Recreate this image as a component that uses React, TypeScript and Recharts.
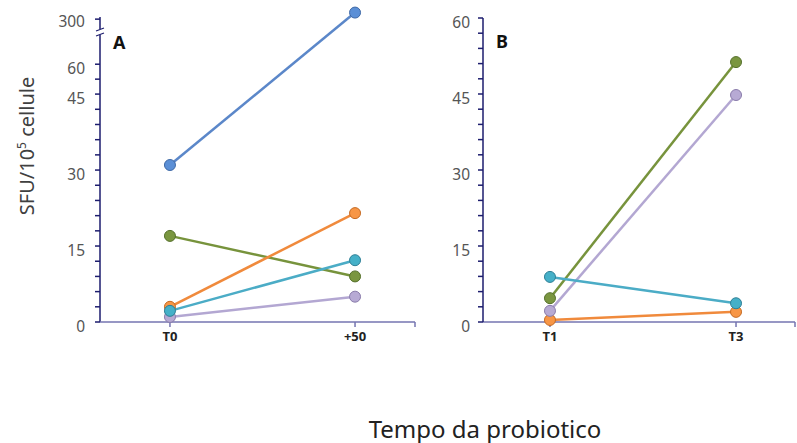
import React from 'react';
import { LineChart, Line, XAxis, YAxis, ReferenceLine } from 'recharts';

// ---- data ----
const catsA = ['T0', '+50'];
const catsB = ['T1', 'T3'];

const aBlue = [31, 335];
const aGreen = [17, 9];
const aOrange = [3, 21.5];
const aTeal = [2.2, 12.2];
const aPurple = [1, 5];

const bGreen = [4.7, 51.3];
const bPurple = [2.2, 44.8];
const bTeal = [8.9, 3.7];
const bOrange = [0.4, 2];

const yTicksA = [0, 3, 6, 9, 12, 15, 18, 21, 24, 27, 30, 33, 36, 39, 42, 45, 52.5, 60, 300];
const yLabelsA = [0, 15, 30, 45, 60, 300];
const yTicksB = [0, 3, 6, 9, 12, 15, 18, 21, 24, 27, 30, 33, 36, 39, 42, 45, 48, 51, 54, 57, 60];
const yLabelsB = [0, 15, 30, 45, 60];

// broken axis for panel A: linear to 45, compressed 45-60, strongly compressed above 60
function brk(v: number): number {
  if (v <= 45) return v;
  if (v <= 60) return 45 + (v - 45) * (5.9 / 15);
  return 50.9 + (v - 60) * (8.9 / 240);
}

const COLORS = {
  blue: { line: '#5b87c9', fill: '#5b8fd6', stroke: '#3f69a6' },
  green: { line: '#77933c', fill: '#7a9640', stroke: '#55702a' },
  orange: { line: '#f08a3c', fill: '#f79646', stroke: '#c66a22' },
  teal: { line: '#4bacc6', fill: '#45b0c8', stroke: '#2d7f96' },
  purple: { line: '#b3a7d2', fill: '#b7aad4', stroke: '#8a7cab' },
};

const rowsA = catsA.map((c, i) => ({
  x: i,
  cat: c,
  blue: aBlue[i],
  green: aGreen[i],
  orange: aOrange[i],
  teal: aTeal[i],
  purple: aPurple[i],
}));

const rowsB = catsB.map((c, i) => ({
  x: i,
  cat: c,
  green: bGreen[i],
  purple: bPurple[i],
  teal: bTeal[i],
  orange: bOrange[i],
}));

const AXIS = '#1d1d6e';
const XAXIS = '#7474b0';
const FONT = '"Noto Sans", "Open Sans", sans-serif';

const xMinA = -0.378;
const xMaxA = 1.324;
const xMinB = -0.36;
const xMaxB = 1.317;

function makeYTick(labels: number[], toRaw: (d: number) => number) {
  return (props: any) => {
    const { x, y, payload } = props;
    const raw = toRaw(payload.value);
    const match = labels.find((l) => Math.abs(l - raw) < 0.01);
    if (match === undefined) return <g />;
    const dy = match === 300 ? 2 : 4;
    return (
      <text x={x} y={y + dy} textAnchor="end" dominantBaseline="central" fill="#555" fontSize={15.5} fontFamily={FONT}>
        {match}
      </text>
    );
  };
}

const tickAMap = new Map(yTicksA.map((t) => [brk(t), t]));
const toRawA = (d: number) => {
  let best = d;
  let bd = Infinity;
  tickAMap.forEach((raw, disp) => {
    if (Math.abs(disp - d) < bd) {
      bd = Math.abs(disp - d);
      best = raw;
    }
  });
  return best;
};

function XTick(cats: string[]) {
  return (props: any) => {
    const { x, y, payload } = props;
    const label = cats[payload.value] ?? '';
    return (
      <text x={x} y={y} dy="0.71em" textAnchor="middle" fill="#222" fontSize={13} fontWeight="bold" fontFamily={FONT}>
        {label}
      </text>
    );
  };
}

function dotStyle(c: { fill: string; stroke: string }) {
  return { r: 5.5, fill: c.fill, stroke: c.stroke, strokeWidth: 1 };
}

export default function App() {
  const seriesA: (keyof typeof COLORS)[] = ['purple', 'green', 'blue', 'orange', 'teal'];
  const seriesB: (keyof typeof COLORS)[] = ['orange', 'purple', 'green', 'teal'];
  return (
    <div style={{ position: 'relative', width: 797, height: 443, background: '#fff', overflow: 'hidden' }}>
      <style>{'body{margin:0}'}</style>

      {/* Panel A */}
      <div style={{ position: 'absolute', left: 0, top: 0 }}>
        <LineChart width={430} height={443} data={rowsA} margin={{ top: 8, right: 15, bottom: 91, left: 0 }}>
          <XAxis
            type="number"
            dataKey="x"
            domain={[xMinA, xMaxA]}
            ticks={[0, 1, xMaxA]}
            allowDataOverflow
            height={30}
            stroke={XAXIS}
            strokeWidth={1.5}
            tickSize={5}
            tickMargin={5}
            tick={XTick(catsA)}
          />
          <YAxis
            type="number"
            domain={[0, 62]}
            ticks={yTicksA.map(brk)}
            width={100}
            axisLine={false}
            tickLine={{ stroke: AXIS, strokeWidth: 1.5 }}
            tickSize={5}
            tickMargin={10}
            tick={makeYTick(yLabelsA, toRawA)}
            interval={0}
          />
          <ReferenceLine
            segment={[{ x: xMinA, y: 0 }, { x: xMinA, y: brk(300) + 0.4 }]}
            stroke={AXIS}
            strokeWidth={1.5}
            ifOverflow="visible"
          />
          {seriesA.map((k) => (
            <Line
              key={k}
              type="linear"
              dataKey={(d: any) => brk(d[k])}
              stroke={COLORS[k].line}
              strokeWidth={2.5}
              dot={dotStyle(COLORS[k])}
              isAnimationActive={false}
            />
          ))}
        </LineChart>
      </div>

      {/* axis break mark */}
      <svg width={20} height={20} style={{ position: 'absolute', left: 90, top: 24 }}>
        <rect x={6} y={5} width={8} height={6} fill="#fff" />
        <path d="M6,7 L14,4" stroke={AXIS} strokeWidth={1.2} fill="none" />
        <path d="M6,12 L14,9" stroke={AXIS} strokeWidth={1.2} fill="none" />
      </svg>

      {/* Panel B */}
      <div style={{ position: 'absolute', left: 400, top: 0 }}>
        <LineChart width={397} height={443} data={rowsB} margin={{ top: 18, right: 2, bottom: 91, left: 0 }}>
          <XAxis
            type="number"
            dataKey="x"
            domain={[xMinB, xMaxB]}
            ticks={[0, 1, xMaxB]}
            allowDataOverflow
            height={30}
            stroke={XAXIS}
            strokeWidth={1.5}
            tickSize={5}
            tickMargin={5}
            tick={XTick(catsB)}
          />
          <YAxis
            type="number"
            domain={[0, 60]}
            ticks={yTicksB}
            width={83}
            stroke={AXIS}
            strokeWidth={1.5}
            tickLine={{ stroke: AXIS, strokeWidth: 1.5 }}
            tickSize={5}
            tickMargin={8}
            tick={makeYTick(yLabelsB, (d) => d)}
            interval={0}
          />
          {seriesB.map((k) => (
            <Line
              key={k}
              type="linear"
              dataKey={k}
              stroke={COLORS[k].line}
              strokeWidth={2.5}
              dot={dotStyle(COLORS[k])}
              isAnimationActive={false}
            />
          ))}
        </LineChart>
      </div>

      {/* panel letters */}
      <div style={{ position: 'absolute', left: 113, top: 30, fontFamily: FONT, fontWeight: 'bold', fontSize: 18, color: '#111' }}>A</div>
      <div style={{ position: 'absolute', left: 496, top: 29, fontFamily: FONT, fontWeight: 'bold', fontSize: 18, color: '#111' }}>B</div>

      {/* y axis title */}
      <div
        style={{
          position: 'absolute',
          left: 26,
          top: 146,
          transform: 'translate(-50%, -50%) rotate(-90deg)',
          whiteSpace: 'nowrap',
          fontFamily: FONT,
          fontSize: 20,
          color: '#404040',
        }}
      >
        SFU/10<sup style={{ fontSize: 12, verticalAlign: 'super', lineHeight: 0 }}>5</sup> cellule
      </div>

      {/* x axis title */}
      <div
        style={{
          position: 'absolute',
          left: 485,
          top: 428,
          transform: 'translate(-50%, -50%)',
          whiteSpace: 'nowrap',
          fontFamily: FONT,
          fontSize: 24,
          color: '#222',
        }}
      >
        Tempo da probiotico
      </div>
    </div>
  );
}
